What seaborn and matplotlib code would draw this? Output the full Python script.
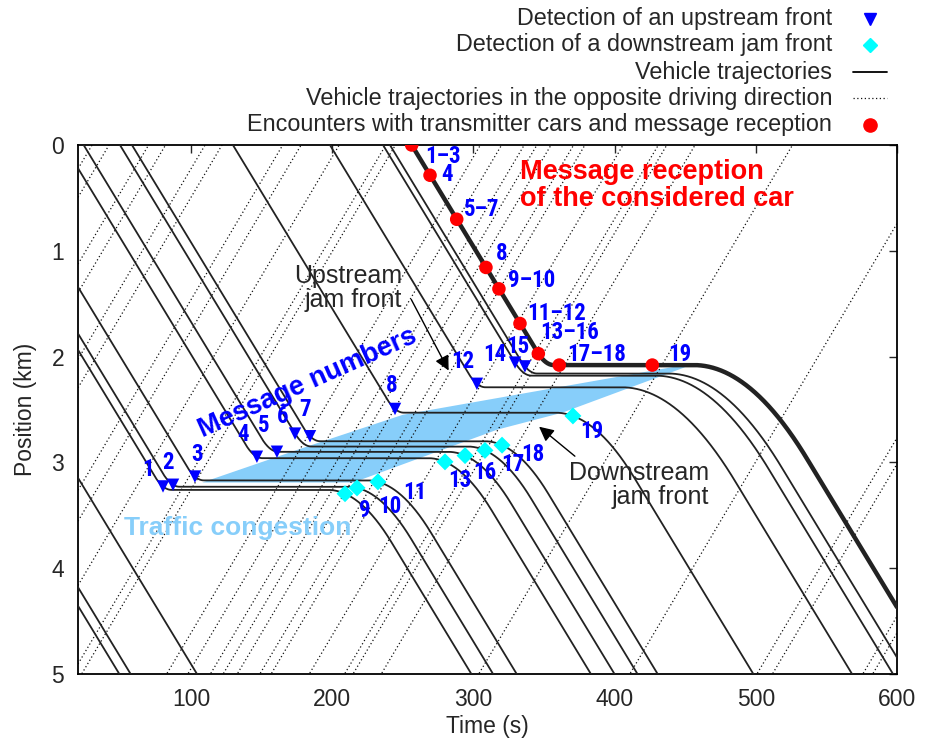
import numpy as np
import pandas as pd
import seaborn as sns
import matplotlib.pyplot as plt
from matplotlib.lines import Line2D
from matplotlib import font_manager

# speeds / times
V_FREE = 0.022     # km/s, driving direction
V_OPP = 0.0225     # km/s, opposite direction
T_DEC = 12         # s, braking time

# vehicles running into the jam (time at position 0, stop position, start time, accel time)
jam_t0 = [-68, -61, -41, 10, 24, 49.7, 58.2, 129.7, 198.4, 236.0, 240.9, 256.3]
jam_stop = [3.26, 3.23, 3.17, 2.96, 2.90, 2.85, 2.80, 2.53, 2.29, 2.18, 2.16, 2.08]
jam_leave = [197, 211, 225, 268, 282, 296, 308, 358, 405, 429, 438, 456]
jam_acc = [45, 45, 45, 45, 45, 45, 45, 56, 80, 80, 80, 80]

# vehicles passing before the jam
free_t0 = [-123, -170, -178]

# opposite direction vehicles (time at position 0)
opp_t_top = [30, 42, 70, 82, 110, 122, 165, 178, 205, 238, 244.8, 305, 320, 336,
             345, 355, 371, 379, 406, 431, 437, 457, 526, 633, 723, 734, 798, 805]

# congestion area
band_t = [108, 180, 250, 445, 450, 363, 317, 215, 108]
band_y = [3.19, 2.86, 2.55, 2.09, 2.10, 2.53, 2.69, 3.19, 3.19]

# markers (time, vehicle index)
up_t = [80.2, 87.3, 102.8, 146.7, 160.9, 173.7, 184.3, 244.5, 302.5, 329.5, 336.5]
up_car = [0, 1, 2, 3, 4, 5, 6, 7, 8, 9, 10]
down_t = [209.1, 217.6, 232.4, 279.9, 294.1, 308.2, 320.3, 370.5]
down_car = [0, 1, 2, 3, 4, 5, 6, 7]
rx_t = [256.3, 269.3, 288.2, 308.9, 318.1, 333.0, 346.0, 360.8, 426.7]

# message number labels
num_text = ["1–3", "4", "5–7", "8", "9–10", "11–12", "13–16", "17–18", "19",
            "12", "14", "15", "8", "1", "2", "3", "4", "5", "6", "7",
            "9", "10", "11", "13", "16", "17", "18", "19"]
num_t = [278.5, 281.3, 306.1, 320.3, 341.5, 359.2, 368.4, 387.5, 446.3,
         292.6, 315.3, 331.6, 242.4, 69.5, 83.7, 104.2, 136.8, 151.7, 165.2, 180.7,
         223.2, 240.9, 258.6, 290.5, 308.2, 328.0, 342.2, 384.0]
num_y = [0.11, 0.28, 0.61, 1.03, 1.28, 1.59, 1.77, 1.98, 1.98,
         2.05, 1.98, 1.90, 2.27, 3.07, 3.00, 2.93, 2.74, 2.65, 2.57, 2.50,
         3.45, 3.42, 3.28, 3.17, 3.10, 3.02, 2.93, 2.71]


def traj(t, t0, ys=None, tl=None, ta=45):
    y = V_FREE * (t - t0)
    if ys is None:
        return y
    t_s = t0 + ys / V_FREE + T_DEC / 2
    y = np.where(t > t_s - T_DEC, ys - V_FREE / (2 * T_DEC) * (t_s - t) ** 2, y)
    y = np.where(t >= t_s, ys, y)
    y = np.where(t >= tl, ys + V_FREE / (2 * ta) * (t - tl) ** 2, y)
    y = np.where(t >= tl + ta, ys + V_FREE * ta / 2 + V_FREE * (t - tl - ta), y)
    return y


def jam_y(i, t):
    return traj(np.asarray(t, float), jam_t0[i], jam_stop[i], jam_leave[i], jam_acc[i])


tt = np.linspace(20, 600, 2400)
rows = []
for i in range(len(jam_t0) - 1):
    rows.append(pd.DataFrame({"t": tt, "y": jam_y(i, tt), "veh": f"j{i}"}))
for i, t0 in enumerate(free_t0):
    rows.append(pd.DataFrame({"t": tt, "y": traj(tt, t0), "veh": f"f{i}"}))
cars = pd.concat(rows)
cars = cars[(cars.y > -0.3) & (cars.y < 5.3)]

opp = pd.concat([pd.DataFrame({"t": tt, "y": V_OPP * (tt0 - tt), "veh": k})
                 for k, tt0 in enumerate(opp_t_top)])
opp = opp[(opp.y > -0.3) & (opp.y < 5.3)]

main = pd.DataFrame({"t": tt, "y": jam_y(len(jam_t0) - 1, tt)})

# condensed bold face for the message numbers, if one is installed
names = {f.name for f in font_manager.fontManager.ttflist}
num_font, num_size = "Liberation Sans", 15
for cand in ["Liberation Sans Narrow", "Roboto Condensed", "Open Sans Condensed",
             "Noto Sans Condensed", "Arial Narrow"]:
    if cand in names:
        num_font, num_size = cand, 16.5
        break

sns.set_style("white")
plt.rcParams["font.family"] = ["Liberation Sans", "DejaVu Sans"]

fig = plt.figure(figsize=(9.3, 7.44), dpi=100)
ax = fig.add_axes([78 / 930, 1 - 674 / 744, 819 / 930, 529 / 744])

ax.fill(band_t, band_y, color="#87cefa", lw=0, zorder=1)
sns.lineplot(data=opp, x="t", y="y", units="veh", estimator=None, sort=False,
             color="#111111", lw=0.9, linestyle=(0, (1, 2)), ax=ax, zorder=2)
sns.lineplot(data=cars, x="t", y="y", units="veh", estimator=None, sort=False,
             color="#222222", lw=1.3, ax=ax, zorder=3)
sns.lineplot(data=main, x="t", y="y", color="#222222", lw=3.2, ax=ax, zorder=4)

uy = [float(jam_y(c, t)) for c, t in zip(up_car, up_t)]
sns.scatterplot(x=up_t, y=uy, marker="v", s=80, color="#0000ff", edgecolor="none", ax=ax, zorder=6)
dy = [float(jam_y(c, t)) for c, t in zip(down_car, down_t)]
sns.scatterplot(x=down_t, y=dy, marker="D", s=75, color="#00ffff", edgecolor="none", ax=ax, zorder=6)
ry = [float(jam_y(len(jam_t0) - 1, t)) for t in rx_t]
sns.scatterplot(x=rx_t, y=ry, marker="o", s=95, color="#ff0000", edgecolor="none", ax=ax, zorder=7)

for s, x, y in zip(num_text, num_t, num_y):
    ax.text(x, y, s, color="#0000ff", fontsize=num_size, fontweight="bold",
            family=[num_font, "DejaVu Sans"], ha="center", va="center", zorder=8)

ax.text(333, 0.38, "Message reception\nof the considered car", color="#ff0000",
        fontsize=19.5, fontweight="bold", ha="left", va="center", linespacing=1.05)
ax.text(182.9, 2.25, "Message numbers", color="#0000ff", fontsize=19.5,
        fontweight="bold", rotation=24, ha="center", va="center", rotation_mode="anchor")
ax.text(133.3, 3.62, "Traffic congestion", color="#87cefa", fontsize=19,
        fontweight="bold", ha="center", va="center")
ax.text(249.4, 1.35, "Upstream\njam front", fontsize=18, ha="right", va="center",
        multialignment="right", linespacing=1.0)
ax.text(466.9, 3.21, "Downstream\njam front", fontsize=18, ha="right", va="center",
        multialignment="right", linespacing=1.0)
ax.annotate("", xy=(283.4, 2.155), xytext=(255.1, 1.437),
            arrowprops=dict(arrowstyle="-|>", color="black", lw=1, mutation_scale=22))
ax.annotate("", xy=(345.0, 2.646), xytext=(373.4, 2.958),
            arrowprops=dict(arrowstyle="-|>", color="black", lw=1, mutation_scale=22))

ax.set_xlim(20, 600)
ax.set_ylim(5, 0)
ax.set_xticks([100, 200, 300, 400, 500, 600])
ax.set_yticks([0, 1, 2, 3, 4, 5])
ax.tick_params(direction="in", length=6, width=1, top=True, right=True,
               labelsize=16.5, pad=10)
ax.set_xlabel("Time (s)", fontsize=16.5, labelpad=3)
ax.set_ylabel("Position (km)", fontsize=16.5, labelpad=10)
for sp in ax.spines.values():
    sp.set_linewidth(1.3)
    sp.set_color("black")

# legend, right aligned outside the axes
leg_text = ["Detection of an upstream front", "Detection of a downstream jam front",
            "Vehicle trajectories", "Vehicle trajectories in the opposite driving direction",
            "Encounters with transmitter cars and message reception"]
leg_y = [19, 45, 72, 98, 125]
for s, py in zip(leg_text, leg_y):
    fig.text(832 / 930, 1 - py / 744, s, fontsize=16.8, ha="right", va="center")
fy = [1 - py / 744 for py in leg_y]
fig.add_artist(Line2D([870 / 930], [fy[0]], marker="v", color="#0000ff", ms=8.5, ls="none"))
fig.add_artist(Line2D([870 / 930], [fy[1]], marker="D", color="#00ffff", ms=7, ls="none"))
fig.add_artist(Line2D([853 / 930, 887 / 930], [fy[2]] * 2, color="black", lw=1.3))
fig.add_artist(Line2D([853 / 930, 887 / 930], [fy[3]] * 2, color="#111111", lw=0.9,
                      linestyle=(0, (1, 2))))
fig.add_artist(Line2D([870 / 930], [fy[4]], marker="o", color="#ff0000", ms=9.5, ls="none"))

fig.savefig("out.png", dpi=100)
